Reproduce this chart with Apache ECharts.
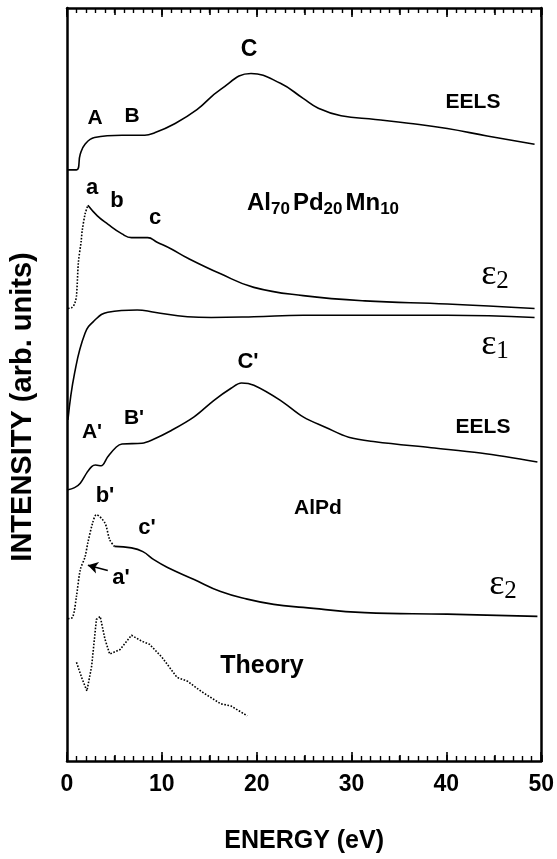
<!DOCTYPE html>
<html>
<head>
<meta charset="utf-8">
<script src="https://cdn.jsdelivr.net/npm/echarts@6/dist/echarts.min.js"></script>
<style>
  html, body { margin: 0; padding: 0; background: #fff; }
  #chart { width: 557px; height: 859px; }
</style>
</head>
<body>
<div id="chart"></div>
<script>
// energy (eV) / intensity (arb. units, stacked offsets)
var xTicks = [0, 10, 20, 30, 40, 50]

// Al70Pd20Mn10 EELS
var eelsX = [0, 1.0, 1.4, 1.9, 2.9, 5.8, 8.2, 9.2, 11.3, 13.7, 16.2, 19.4, 22.5, 24.9, 26.5, 28.9, 32.5, 36.0, 40.1, 44.3, 49.3]
var eelsY = [78.5, 78.5, 80.6, 81.9, 82.8, 83.1, 83.1, 83.4, 84.6, 86.5, 89.2, 91.3, 90.0, 88.0, 86.7, 85.7, 85.2, 84.7, 84.0, 83.0, 81.9]

// Al70Pd20Mn10 eps2 (dotted rising part + solid part)
var eps2DotX = [0.1, 0.5, 0.8, 1.0, 1.2, 1.5, 1.6, 1.9, 2.2]
var eps2DotY = [60.1, 60.2, 60.7, 61.8, 66.2, 69.1, 70.4, 72.6, 73.8]
var eps2X = [2.2, 3.2, 4.3, 5.8, 6.8, 8.5, 9.5, 11.0, 12.7, 16.2, 19.7, 24.9, 31.4, 40.1, 49.3]
var eps2Y = [73.8, 72.4, 71.3, 70.0, 69.5, 69.5, 68.9, 68.0, 66.8, 64.7, 62.9, 61.8, 61.1, 60.7, 60.1]

// Al70Pd20Mn10 eps1
var eps1X = [0.1, 0.8, 1.9, 2.9, 4.3, 7.4, 9.2, 12.7, 15.2, 19.7, 24.9, 40.1, 49.3]
var eps1Y = [45.3, 51.5, 56.8, 58.5, 59.6, 59.9, 59.6, 59.0, 58.9, 59.0, 59.2, 59.2, 58.9]

// AlPd EELS
var eelsPdX = [0, 0.8, 1.4, 2.1, 2.6, 3.0, 3.6, 4.3, 5.2, 5.8, 7.9, 8.9, 11.0, 13.4, 15.5, 17.3, 18.4, 19.7, 22.5, 24.9, 27.3, 29.7, 32.5, 38.4, 43.6, 49.6]
var eelsPdY = [36.0, 36.3, 36.9, 38.3, 39.1, 39.3, 39.2, 40.4, 41.7, 42.1, 42.2, 42.6, 43.9, 45.7, 47.9, 49.5, 50.2, 49.9, 47.9, 45.7, 44.3, 43.0, 42.4, 41.6, 40.9, 39.7]

// AlPd eps2
var eps2PdDotX = [0.1, 0.6, 1.0, 1.4, 1.9, 2.2, 2.7, 3.1, 4.0, 4.5, 5.0]
var eps2PdDotY = [18.9, 19.1, 21.9, 25.4, 27.1, 29.0, 31.6, 32.7, 31.6, 29.4, 28.5]
var eps2PdX = [5.0, 6.8, 8.0, 9.2, 10.6, 13.4, 16.2, 19.0, 21.8, 24.9, 31.4, 40.1, 49.6]
var eps2PdY = [28.5, 28.3, 27.8, 26.7, 25.7, 24.1, 22.5, 21.5, 20.8, 20.4, 19.7, 19.5, 19.2]

// AlPd theory
var theoryX = [1.0, 1.6, 2.1, 2.6, 3.1, 3.5, 4.0, 4.5, 5.6, 6.8, 7.9, 8.7, 10.0, 11.6, 12.7, 14.2, 16.2, 17.3, 19.0]
var theoryY = [13.1, 10.9, 9.3, 12.6, 18.8, 19.2, 16.2, 14.2, 14.8, 16.7, 15.9, 15.5, 13.8, 11.1, 10.6, 9.2, 7.6, 7.3, 6.0]

// a' arrow (tail, head)
var arrowFrom = [4.3, 25.3]
var arrowTo = [2.2, 26.0]

var SANS = 'Liberation Sans, Arial, Helvetica, sans-serif'
var SERIF = 'Liberation Serif, Times New Roman, serif'

function pairs(xs, ys) {
  return xs.map(function (x, i) { return [x, ys[i]] })
}

function curve(xs, ys, dotted, smooth) {
  return {
    type: 'line',
    data: pairs(xs, ys),
    showSymbol: false,
    smooth: smooth,
    lineStyle: { color: '#000', width: 1.6, type: dotted ? 'dotted' : 'solid' },
    animation: false
  }
}

function label(text, x, y, size) {
  return {
    type: 'text', x: x, y: y,
    style: { text: text, font: 'bold ' + size + 'px ' + SANS, fill: '#000', align: 'center', verticalAlign: 'middle' }
  }
}

function eps(sub, x, y) {
  return {
    type: 'text', x: x, y: y,
    style: {
      text: '{e|ε}{s|' + sub + '}', align: 'center', verticalAlign: 'middle',
      rich: {
        e: { fontFamily: SERIF, fontSize: 36, fill: '#000' },
        s: { fontFamily: SERIF, fontSize: 25, fill: '#000', padding: [12, 0, 0, 0] }
      }
    }
  }
}

// grid 0: frame + major (10) and minor (1) ticks, grid 1: medium ticks every 5
var tickAxis = function (pos, grid, interval, len, showLabel) {
  return {
    type: 'value', gridIndex: grid, position: pos, min: 0, max: 50, interval: interval,
    axisLine: { show: grid == 0, onZero: false, lineStyle: { color: '#000', width: 2.5 } },
    axisTick: { show: true, inside: true, length: len, lineStyle: { color: '#000', width: 1.6 } },
    minorTick: { show: grid == 0, splitNumber: 10, length: 5, lineStyle: { color: '#000', width: 1.4 } },
    splitLine: { show: false },
    axisLabel: { show: showLabel, fontFamily: SANS, fontWeight: 'bold', fontSize: 23, color: '#000', margin: 12 }
  }
}

var xBottom = tickAxis('bottom', 0, 10, 9, true)
xBottom.name = 'ENERGY (eV)'
xBottom.nameLocation = 'middle'
xBottom.nameGap = 68
xBottom.nameTextStyle = { fontFamily: SANS, fontWeight: 'bold', fontSize: 25, color: '#000' }

var frameY = function (pos) {
  return {
    type: 'value', gridIndex: 0, position: pos, min: 0, max: 100,
    axisLine: { show: true, onZero: false, lineStyle: { color: '#000', width: 2.5 } },
    axisTick: { show: false }, axisLabel: { show: false }, splitLine: { show: false }
  }
}

var chtopt = {
  backgroundColor: '#fff',
  animation: false,
  grid: [
    { left: 67, right: 15, top: 8, bottom: 97 },
    { left: 67, right: 15, top: 8, bottom: 97 }
  ],
  xAxis: [
    xBottom,
    tickAxis('top', 0, 10, 9, false),
    tickAxis('bottom', 1, 5, 7, false),
    tickAxis('top', 1, 5, 7, false)
  ],
  yAxis: [
    frameY('left'),
    frameY('right'),
    { type: 'value', gridIndex: 1, min: 0, max: 100, show: false }
  ],
  series: [
    curve(eelsX, eelsY, false, 0.45),
    curve(eps2DotX, eps2DotY, true, 0.3),
    curve(eps2X, eps2Y, false, 0.45),
    curve(eps1X, eps1Y, false, 0.45),
    curve(eelsPdX, eelsPdY, false, 0.35),
    curve(eps2PdDotX, eps2PdDotY, true, 0.3),
    curve(eps2PdX, eps2PdY, false, 0.45),
    curve(theoryX, theoryY, true, false)
  ],
  graphic: [
    {
      type: 'text', x: 23, y: 407, rotation: Math.PI / 2,
      style: { text: 'INTENSITY (arb. units)', font: 'bold 29px ' + SANS, fill: '#000', align: 'center', verticalAlign: 'middle' }
    },
    label('C', 249, 50, 23),
    label('A', 95, 118, 21),
    label('B', 132, 116, 21),
    label('EELS', 473, 102, 21),
    label('a', 92, 188, 22),
    label('b', 117, 201, 22),
    label('c', 155, 218, 22),
    {
      type: 'text', x: 247, y: 203,
      style: {
        text: '{m|Al}{s|70}{m|Pd}{s|20}{m|Mn}{s|10}', verticalAlign: 'middle',
        rich: {
          m: { fontFamily: SANS, fontWeight: 'bold', fontSize: 24, fill: '#000' },
          s: { fontFamily: SANS, fontWeight: 'bold', fontSize: 17, fill: '#000', padding: [12, 3, 0, 0] }
        }
      }
    },
    eps('2', 495, 275),
    eps('1', 495, 345),
    label('EELS', 483, 427, 21),
    label("C'", 248, 362, 22),
    label("A'", 92, 432, 21),
    label("B'", 134, 418, 21),
    label('AlPd', 318, 508, 21),
    label("b'", 105, 496, 22),
    label("c'", 147, 528, 22),
    label("a'", 121, 578, 22),
    eps('2', 503, 585),
    label('Theory', 262, 666, 25)
  ]
}

// a' arrow drawn in data coordinates
chtopt.series[5].markLine = {
  silent: true, animation: false,
  symbol: ['none', 'arrow'], symbolSize: [9, 10],
  lineStyle: { color: '#000', width: 1.5, type: 'solid' },
  label: { show: false },
  data: [[{ coord: arrowFrom }, { coord: arrowTo }]]
}

var chart = echarts.init(document.getElementById('chart'), null, { renderer: 'canvas' })
chart.setOption(chtopt)
</script>
</body>
</html>
